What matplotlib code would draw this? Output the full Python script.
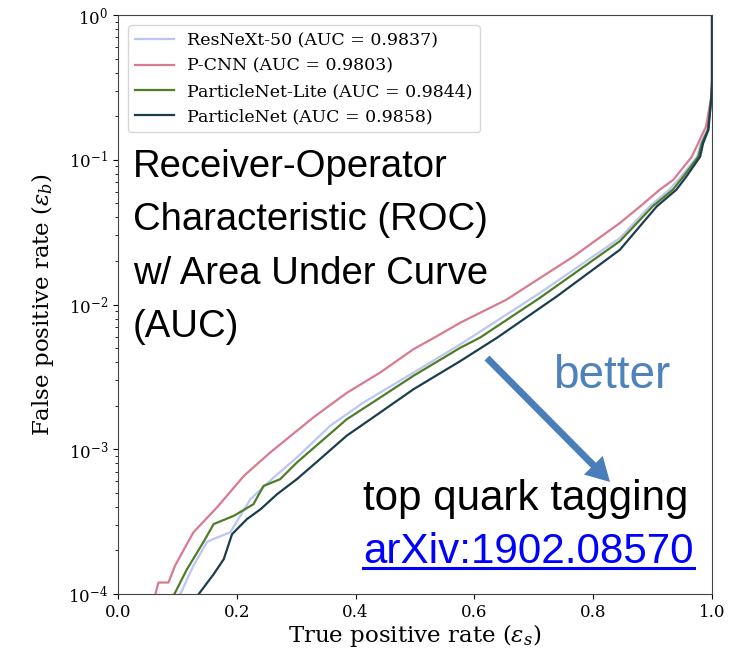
import numpy as np
import matplotlib
matplotlib.use('Agg')
from matplotlib import pyplot as plt
from matplotlib.lines import Line2D

plt.rcParams['font.family'] = 'DejaVu Serif'
plt.rcParams['mathtext.fontset'] = 'dejavuserif'

# ROC curves (tpr, fpr)
resnext_tpr = [0.105, 0.127, 0.150, 0.161, 0.189, 0.223, 0.262, 0.301, 0.357, 0.413, 0.469, 0.525,
               0.576, 0.598, 0.710, 0.845, 0.895, 0.928, 0.948, 0.975, 0.981, 0.992, 0.998, 1.0, 1.0]
resnext_fpr = [1.0e-4, 1.57e-4, 2.29e-4, 2.40e-4, 2.67e-4, 4.52e-4, 6.38e-4, 8.77e-4, 1.45e-3, 2.10e-3,
               2.88e-3, 3.96e-3, 5.30e-3, 6.05e-3, 1.20e-2, 2.88e-2, 4.76e-2, 6.21e-2, 7.67e-2, 0.105,
               0.130, 0.161, 0.251, 0.324, 1.0]

pcnn_tpr = [0.063, 0.068, 0.085, 0.096, 0.127, 0.167, 0.212, 0.256, 0.273, 0.301, 0.329, 0.385, 0.441,
            0.497, 0.542, 0.576, 0.654, 0.767, 0.845, 0.879, 0.912, 0.935, 0.966, 0.990, 0.998, 1.0, 1.0]
pcnn_fpr = [1.0e-4, 1.20e-4, 1.20e-4, 1.57e-4, 2.67e-4, 3.98e-4, 6.55e-4, 9.48e-4, 1.08e-3, 1.34e-3,
            1.66e-3, 2.45e-3, 3.38e-3, 4.90e-3, 6.21e-3, 7.48e-3, 1.08e-2, 2.15e-2, 3.66e-2, 4.76e-2,
            6.21e-2, 7.28e-2, 0.105, 0.170, 0.259, 0.321, 1.0]

lite_tpr = [0.095, 0.116, 0.144, 0.161, 0.195, 0.228, 0.245, 0.273, 0.301, 0.385, 0.441, 0.497, 0.576,
            0.609, 0.710, 0.845, 0.900, 0.934, 0.952, 0.977, 0.983, 0.993, 0.999, 1.0, 1.0]
lite_fpr = [1.0e-4, 1.48e-4, 2.29e-4, 3.04e-4, 3.47e-4, 4.17e-4, 5.58e-4, 6.21e-4, 8.09e-4, 1.61e-3,
            2.27e-3, 3.21e-3, 5.02e-3, 5.89e-3, 1.11e-2, 2.74e-2, 4.76e-2, 6.21e-2, 7.67e-2, 0.105,
            0.130, 0.161, 0.263, 0.324, 1.0]

pnet_tpr = [0.136, 0.161, 0.178, 0.192, 0.217, 0.240, 0.268, 0.301, 0.334, 0.385, 0.441, 0.497, 0.576,
            0.638, 0.739, 0.845, 0.907, 0.940, 0.957, 0.980, 0.985, 0.994, 0.999, 1.0, 1.0]
pnet_fpr = [1.0e-4, 1.37e-4, 1.74e-4, 2.59e-4, 3.29e-4, 3.85e-4, 4.90e-4, 6.21e-4, 8.13e-4, 1.24e-3,
            1.79e-3, 2.59e-3, 4.06e-3, 5.89e-3, 1.14e-2, 2.39e-2, 4.76e-2, 6.21e-2, 7.67e-2, 0.105,
            0.130, 0.161, 0.274, 0.355, 1.0]

labels = ['ResNeXt-50 (AUC = 0.9837)', 'P-CNN (AUC = 0.9803)',
          'ParticleNet-Lite (AUC = 0.9844)', 'ParticleNet (AUC = 0.9858)']
colors = ['#bcc6f2', '#d97a90', '#4f7d2a', '#1c3d4f']

W, H = 743, 658
fig = plt.figure(figsize=(W / 100, H / 100), dpi=100)
ax = fig.add_axes([118 / W, 1 - 594 / H, (712 - 118) / W, (594 - 15) / H])

curves = [(resnext_tpr, resnext_fpr), (pcnn_tpr, pcnn_fpr), (lite_tpr, lite_fpr), (pnet_tpr, pnet_fpr)]
for (x, y), lab, c in zip(curves, labels, colors):
    ax.plot(x, y, color=c, lw=1.6, label=lab)

ax.set_yscale('log')
ax.set_xlim(0, 1)
ax.set_ylim(1e-4, 1)
ax.set_xlabel(r'True positive rate ($\varepsilon_s$)', fontsize=16.5, labelpad=1)
ax.set_ylabel(r'False positive rate ($\varepsilon_b$)', fontsize=16.5, labelpad=9)
ax.tick_params(labelsize=12)
for s in ax.spines.values():
    s.set_color('#444444')

leg = ax.legend(loc='upper left', fontsize=12.5, frameon=True, fancybox=True, labelspacing=0.48,
                edgecolor='#cccccc', borderaxespad=0.6, handlelength=2.2)

# overlay text from the slide
fig.text(133 / W, 1 - 149 / H, 'Receiver-Operator\nCharacteristic (ROC)\nw/ Area Under Curve\n(AUC)',
         family='Liberation Sans', fontsize=27.5, va='top', ha='left', linespacing=1.62)
fig.text(553 / W, 1 - 388 / H, 'better', family='Liberation Sans', fontsize=33,
         color='#4f81bd', va='baseline')
fig.text(363 / W, 1 - 510 / H, 'top quark tagging', family='Liberation Sans', fontsize=30.3,
         va='baseline')
link = fig.text(363 / W, 1 - 563 / H, 'arXiv:1902.08570', family='Liberation Sans', fontsize=30.3,
                color='#0000ff', va='baseline')

ax.annotate('', xy=(610, H - 482), xycoords='figure pixels',
            xytext=(487, H - 358), textcoords='figure pixels',
            arrowprops=dict(width=5, headwidth=19, headlength=17, shrink=0, color='#4a7ebb', lw=0))

fig.canvas.draw()
bb = link.get_window_extent()
fig.add_artist(Line2D([bb.x0, bb.x1], [H - 568, H - 568], transform=None, color='#0000ff', lw=2.2))

fig.savefig('out.png', dpi=100)
